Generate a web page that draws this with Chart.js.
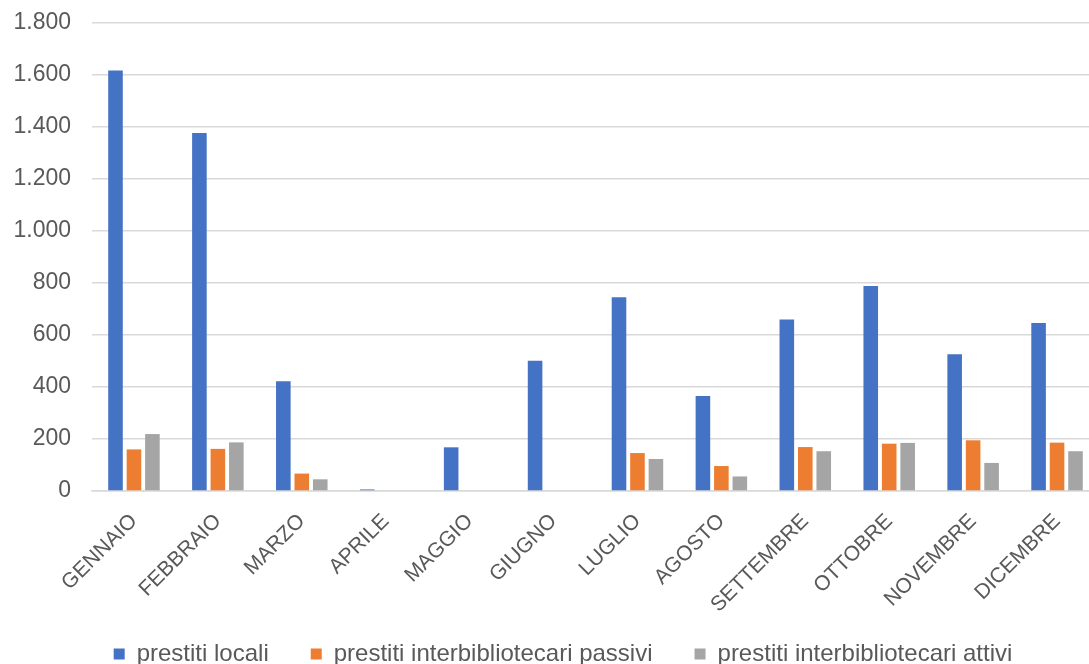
<!DOCTYPE html>
<html>
<head>
<meta charset="utf-8">
<script src="https://cdn.jsdelivr.net/npm/chart.js@4/dist/chart.umd.min.js"></script>
<style>
  html, body { margin: 0; padding: 0; background: #fff; overflow: hidden; }
  #wrap { width: 1144px; height: 676px; }
</style>
</head>
<body>
<div id="wrap"><canvas id="prestiti" width="1144" height="676"></canvas></div>
<script>
const mesi = ['GENNAIO','FEBBRAIO','MARZO','APRILE','MAGGIO','GIUGNO','LUGLIO','AGOSTO','SETTEMBRE','OTTOBRE','NOVEMBRE','DICEMBRE'];
const prestitiLocali = [1617, 1377, 422, 6, 168, 501, 745, 365, 660, 788, 526, 646];
const interPassivi   = [160, 162, 67, 0, 0, 0, 146, 96, 169, 182, 195, 186];
const interAttivi    = [219, 187, 45, 0, 0, 0, 123, 56, 153, 185, 108, 153];
const yTicks = [0, 200, 400, 600, 800, 1000, 1200, 1400, 1600, 1800];

const textColor = '#595959';
const gridColor = '#d9d9d9';
const fontFam = 'Liberation Sans, Arial, sans-serif';

function fmt(v) {
    return String(v).replace(/\B(?=(\d{3})+(?!\d))/g, '.');
}

// let the rotated month labels run under the legend box and widen the legend row a bit
const layoutTweak = {
    id: 'layoutTweak',
    afterLayout(chart) {
        chart.scales.x.bottom = chart.height;
        chart.legend.right = chart.width - 18;
    }
};

const ctx = document.getElementById('prestiti').getContext('2d');
new Chart(ctx, {
    type: 'bar',
    data: {
        labels: mesi,
        datasets: [
            { label: 'prestiti locali', data: prestitiLocali, backgroundColor: '#4472C4' },
            { label: 'prestiti interbibliotecari passivi', data: interPassivi, backgroundColor: '#ED7D31' },
            { label: 'prestiti interbibliotecari attivi', data: interAttivi, backgroundColor: '#A5A5A5' }
        ]
    },
    plugins: [layoutTweak],
    options: {
        responsive: false,
        animation: false,
        devicePixelRatio: 1,
        categoryPercentage: 0.66,
        barPercentage: 0.79,
        layout: { padding: { top: 23, right: 45, left: 0, bottom: 0 } },
        plugins: {
            tooltip: { enabled: false },
            legend: {
                position: 'bottom',
                labels: {
                    boxWidth: 11,
                    boxHeight: 11,
                    padding: 42,
                    color: textColor,
                    font: { family: fontFam, size: 24 }
                }
            }
        },
        scales: {
            x: {
                grid: { display: false, drawTicks: false },
                border: { color: gridColor, width: 1.5 },
                ticks: {
                    autoSkip: false,
                    minRotation: 45,
                    maxRotation: 45,
                    padding: 18,
                    color: textColor,
                    font: { family: fontFam, size: 21 }
                },
                afterFit: s => { s.height = 109; }
            },
            y: {
                min: 0,
                max: 1800,
                afterBuildTicks: s => { s.ticks = yTicks.map(v => ({ value: v })); },
                grid: { color: gridColor, lineWidth: 1.5, drawTicks: false },
                border: { display: false },
                ticks: {
                    padding: 21,
                    color: textColor,
                    font: { family: fontFam, size: 23 },
                    callback: v => fmt(v)
                },
                afterFit: s => { s.width = 92; s.paddingTop = 0; }
            }
        }
    }
});
</script>
</body>
</html>
